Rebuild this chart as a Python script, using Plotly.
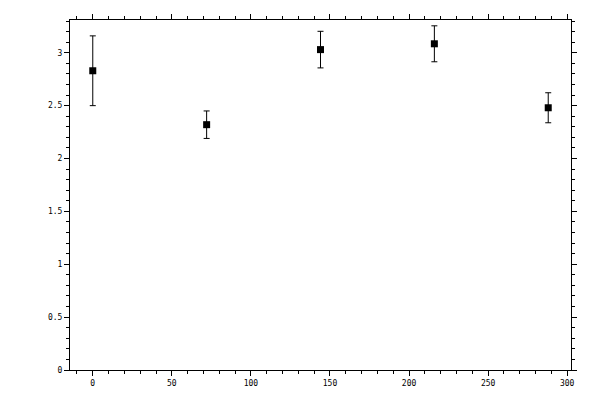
import plotly.graph_objects as go

x_vals = [0, 72, 144, 216, 288]
y_vals = [2.83, 2.32, 3.03, 3.085, 2.48]
y_err = [0.33, 0.13, 0.173, 0.17, 0.142]

x_ticks = [0, 50, 100, 150, 200, 250, 300]
y_ticks = [0, 0.5, 1, 1.5, 2, 2.5, 3]
y_tick_text = ["0", "0.5", "1", "1.5", "2", "2.5", "3"]

fig = go.Figure()
fig.add_trace(go.Scatter(
    x=x_vals, y=y_vals, mode="markers",
    marker=dict(symbol="square", size=7, color="black"),
    error_y=dict(type="data", array=y_err, visible=True, color="black", thickness=1, width=3),
    showlegend=False,
))

axis_common = dict(
    showgrid=False, zeroline=False, showline=True, linecolor="black", linewidth=1,
    ticks="outside", ticklen=5, tickwidth=1, tickcolor="black", mirror="ticks",
    automargin=False,
    tickfont=dict(family="DejaVu Sans Mono", size=8, color="black"),
)

fig.update_layout(
    width=600, height=400,
    margin=dict(l=62, r=37, t=12, b=38),
    paper_bgcolor="white", plot_bgcolor="white",
    xaxis=dict(range=[-14.4, 302.4], tickvals=x_ticks,
               minor=dict(dtick=10, ticks="outside", ticklen=3, tickcolor="black", tickwidth=1),
               **axis_common),
    yaxis=dict(range=[0, 3.31], tickvals=y_ticks, ticktext=y_tick_text,
               minor=dict(dtick=0.1, ticks="outside", ticklen=3, tickcolor="black", tickwidth=1),
               **axis_common),
)

fig.write_html("out.html")
